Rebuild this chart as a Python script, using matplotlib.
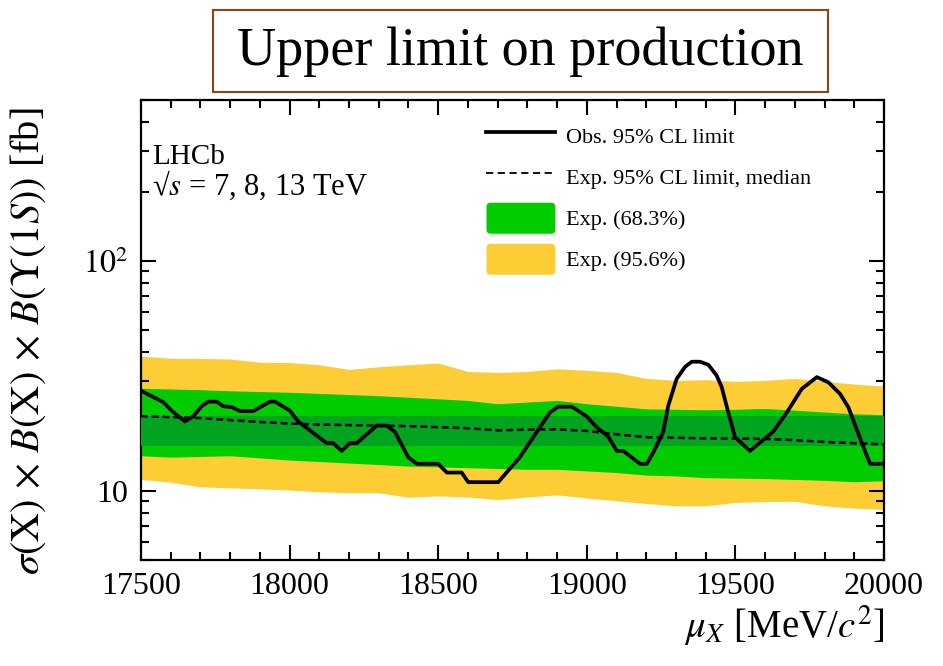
import numpy as np
import matplotlib
matplotlib.use("Agg")
import matplotlib.pyplot as plt
from matplotlib.patches import FancyBboxPatch, Rectangle
from matplotlib.legend_handler import HandlerPatch
from matplotlib.ticker import LogLocator, FixedLocator, FuncFormatter, MultipleLocator, NullFormatter

# Times-like look
plt.rcParams['font.family'] = 'Liberation Serif'
plt.rcParams['mathtext.fontset'] = 'stix'

# Colors
yellow = "#fccd35"
green = "#00cc00"
dark_green = "#00a41e"
brown = "#8b4513"

# Observed 95% CL limit [fb]
mass_obs = [17500, 17575, 17603, 17648, 17676, 17704, 17726, 17755, 17777, 17805,
            17833, 17878, 17934, 17951, 18001, 18029, 18125, 18147, 18175, 18203,
            18226, 18293, 18327, 18355, 18399, 18428, 18500, 18529, 18579, 18601,
            18702, 18775, 18820, 18876, 18904, 18949, 18999, 19033, 19072, 19101,
            19123, 19179, 19202, 19224, 19257, 19274, 19302, 19330, 19353, 19381,
            19409, 19437, 19454, 19476, 19499, 19549, 19628, 19673, 19723, 19774,
            19813, 19852, 19880, 19925, 19953, 20000]
obs_limit = [27.2, 24.3, 22.3, 20.0, 21.1, 23.3, 24.4, 24.4, 23.3, 23.1,
             22.2, 22.2, 24.4, 24.4, 22.3, 20.0, 16.1, 16.1, 14.9, 16.1,
             16.1, 19.2, 19.2, 18.0, 14.0, 13.1, 13.1, 12.0, 12.0, 10.9,
             10.9, 14.0, 17.1, 21.9, 23.2, 23.2, 21.1, 18.9, 17.2, 14.9,
             14.9, 13.1, 13.1, 14.7, 18.0, 23.4, 30.6, 34.5, 36.4, 36.4,
             35.3, 31.7, 28.2, 21.9, 17.1, 14.9, 18.1, 21.9, 27.7, 31.2,
             29.6, 26.4, 23.1, 16.2, 13.1, 13.1]

# Expected limit and bands [fb]
mass_exp = list(range(17500, 20001, 100))
exp_median = [21.1, 20.9, 20.7, 20.3, 19.9, 19.6, 19.4, 19.3, 19.2, 19.1,
              18.9, 18.7, 18.3, 18.45, 18.5, 18.2, 17.6, 17.1, 17.0, 16.9,
              16.85, 16.8, 16.6, 16.3, 16.1, 15.9]
band68_hi = [27.9, 27.7, 27.5, 27.2, 27.0, 26.8, 26.5, 26.2, 25.9, 25.5,
             25.1, 24.7, 23.9, 24.3, 24.7, 23.9, 23.3, 22.7, 22.6, 22.5,
             22.6, 22.8, 22.4, 22.0, 21.6, 21.4]
band68_lo = [14.2, 14.0, 14.1, 14.2, 13.9, 13.6, 13.4, 13.2, 13.0, 12.8,
             12.7, 12.6, 12.5, 12.4, 12.4, 12.2, 12.0, 11.7, 11.6, 11.4,
             11.35, 11.3, 11.2, 11.1, 10.95, 11.05]
band956_hi = [38.5, 37.7, 37.6, 37.4, 36.2, 36.1, 35.3, 33.7, 34.6, 35.3,
              35.9, 33.0, 32.7, 33.0, 33.9, 33.4, 32.7, 30.8, 30.2, 30.4,
              29.9, 30.2, 30.8, 29.9, 29.1, 28.5]
band956_lo = [11.2, 10.9, 10.4, 10.3, 10.2, 10.07, 9.9, 9.8, 9.8, 9.37,
              9.5, 9.4, 9.15, 9.4, 9.6, 9.3, 9.05, 8.8, 8.6, 8.6,
              8.9, 8.98, 9.0, 8.6, 8.4, 8.3]
core_lo, core_hi = 15.7, 21.1


class RoundedBox(HandlerPatch):
    def create_artists(self, legend, orig_handle, xdescent, ydescent,
                       width, height, fontsize, trans):
        p = FancyBboxPatch((-xdescent + 2, -ydescent + 2), width - 4, height - 4,
                           boxstyle="round,pad=2,rounding_size=3",
                           facecolor=orig_handle.get_facecolor(),
                           edgecolor="none", transform=trans)
        return [p]


fig = plt.figure(figsize=(9.43, 6.66), dpi=100)
ax = fig.add_axes([141 / 943, 1 - 560 / 666, 743 / 943, 460 / 666])

dash = (0, (2.8, 1.5))
ax.fill_between(mass_exp, band956_lo, band956_hi, color=yellow, lw=0, zorder=1)
ax.fill_between(mass_exp, band68_lo, band68_hi, color=green, lw=0, zorder=2)
ax.fill_between([17500, 20000], core_lo, core_hi, color=dark_green, lw=0, zorder=3)
ax.plot(mass_exp, exp_median, color="black", lw=1.8, ls=dash, zorder=4)
ax.plot(mass_obs, obs_limit, color="black", lw=2.7, zorder=5)

ax.set_yscale("log")
ax.set_xlim(17500, 20000)
ax.set_ylim(5, 500)

# Ticks, ROOT style
ax.xaxis.set_major_locator(MultipleLocator(500))
ax.xaxis.set_minor_locator(MultipleLocator(100))
ax.yaxis.set_major_locator(FixedLocator([10, 100]))
ax.yaxis.set_minor_locator(LogLocator(base=10, subs=np.arange(2, 10)))
ax.yaxis.set_minor_formatter(NullFormatter())
ax.yaxis.set_major_formatter(FuncFormatter(lambda v, _: "10" if v < 50 else r"$10^{2}$"))
ax.tick_params(which="both", direction="in", top=True, right=True, width=1.5, labelsize=23)
ax.tick_params(which="major", length=11, pad=9)
ax.tick_params(which="minor", length=6)
for spine in ax.spines.values():
    spine.set_linewidth(1.6)

ax.set_xlabel(r"$\mu_{X}$ [MeV/$c^{2}$]", fontsize=28, loc="right")
ax.xaxis.set_label_coords(1.0, -0.095)
ax.set_ylabel(r"$\sigma(\mathrm{X})\,\times\,B(\mathrm{X})\,\times\,B(\Upsilon(1S))$ [fb]", fontsize=29)
ax.yaxis.set_label_coords(-0.125, 0.476)

# Legend
h_obs, = ax.plot([], [], color="black", lw=2.7)
h_exp, = ax.plot([], [], color="black", lw=1.3, ls=(0, (4, 2.5)))
h68 = Rectangle((0, 0), 1, 1, facecolor=green)
h95 = Rectangle((0, 0), 1, 1, facecolor=yellow)
ax.legend([h_obs, h_exp, h68, h95],
          ["Obs. 95% CL limit", "Exp. 95% CL limit, median", "Exp. (68.3%)", "Exp. (95.6%)"],
          handler_map={Rectangle: RoundedBox()},
          loc="upper left", bbox_to_anchor=(0.465, 0.955), borderaxespad=0, borderpad=0,
          frameon=False, fontsize=16, handlelength=3.1, handleheight=1.77,
          labelspacing=0.45, handletextpad=0.5)

ax.text(0.015, 0.876, "LHCb", transform=ax.transAxes, fontsize=21, va="center", ha="left")
ax.text(0.015, 0.815, "\u221a$s$ = 7, 8, 13 TeV", transform=ax.transAxes,
        fontsize=22, va="center", ha="left")

# Title box
fig.patches.append(Rectangle((213 / 943, 1 - 92 / 666), 615 / 943, 82 / 666,
                             transform=fig.transFigure, facecolor="white",
                             edgecolor=brown, lw=1.5))
fig.text(520 / 943, 1 - 52 / 666, "Upper limit on production", fontsize=39,
         ha="center", va="center")

fig.savefig("out.png", dpi=100)
